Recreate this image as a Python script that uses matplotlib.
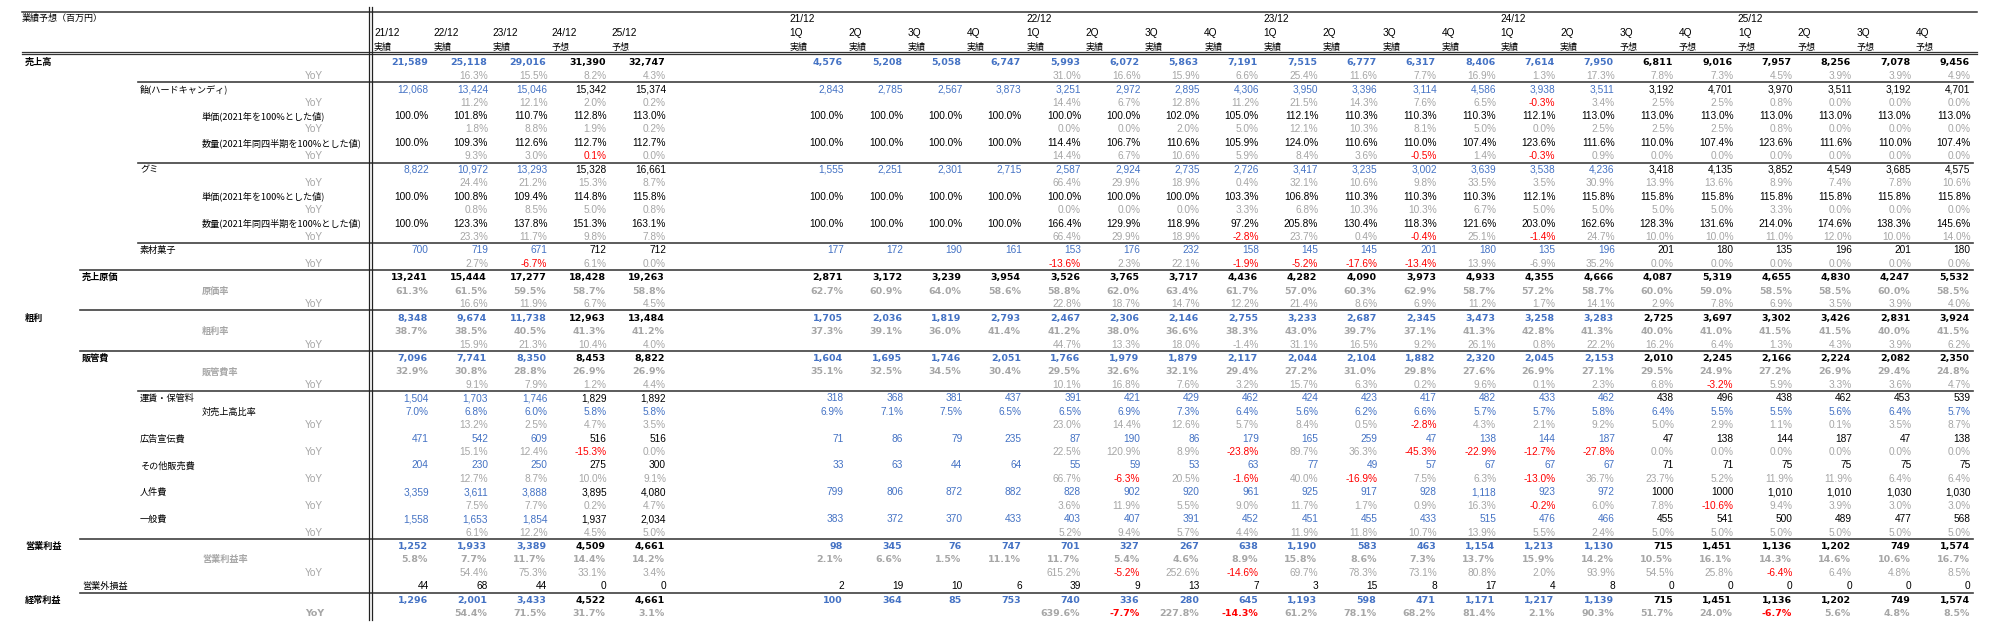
import matplotlib.pyplot as plt

# column headers (5 annual columns, then 20 quarterly columns)
years = ['21/12', '22/12', '23/12', '24/12', '25/12']
annual_status = ['実績', '実績', '実績', '予想', '予想']
quarters = ['1Q', '2Q', '3Q', '4Q']
quarter_status = ['実績'] * 14 + ['予想'] * 6
is_actual = [True, True, True, False, False] + [True] * 14 + [False] * 6

N = None
# each list: 21/12..25/12 annual, then 21/12 1Q .. 25/12 4Q
sales = [21589, 25118, 29016, 31390, 32747,
         4576, 5208, 5058, 6747, 5993, 6072, 5863, 7191, 7515, 6777, 6317, 8406,
         7614, 7950, 6811, 9016, 7957, 8256, 7078, 9456]
sales_yoy = [N, 16.3, 15.5, 8.2, 4.3,
             N, N, N, N, 31.0, 16.6, 15.9, 6.6, 25.4, 11.6, 7.7, 16.9,
             1.3, 17.3, 7.8, 7.3, 4.5, 3.9, 3.9, 4.9]
candy = [12068, 13424, 15046, 15342, 15374,
         2843, 2785, 2567, 3873, 3251, 2972, 2895, 4306, 3950, 3396, 3114, 4586,
         3938, 3511, 3192, 4701, 3970, 3511, 3192, 4701]
candy_yoy = [N, 11.2, 12.1, 2.0, 0.2,
             N, N, N, N, 14.4, 6.7, 12.8, 11.2, 21.5, 14.3, 7.6, 6.5,
             -0.3, 3.4, 2.5, 2.5, 0.8, 0.0, 0.0, 0.0]
candy_price = [100.0, 101.8, 110.7, 112.8, 113.0,
               100.0, 100.0, 100.0, 100.0, 100.0, 100.0, 102.0, 105.0, 112.1, 110.3, 110.3, 110.3,
               112.1, 113.0, 113.0, 113.0, 113.0, 113.0, 113.0, 113.0]
candy_price_yoy = [N, 1.8, 8.8, 1.9, 0.2,
                   N, N, N, N, 0.0, 0.0, 2.0, 5.0, 12.1, 10.3, 8.1, 5.0,
                   0.0, 2.5, 2.5, 2.5, 0.8, 0.0, 0.0, 0.0]
candy_qty = [100.0, 109.3, 112.6, 112.7, 112.7,
             100.0, 100.0, 100.0, 100.0, 114.4, 106.7, 110.6, 105.9, 124.0, 110.6, 110.0, 107.4,
             123.6, 111.6, 110.0, 107.4, 123.6, 111.6, 110.0, 107.4]
candy_qty_yoy = [N, 9.3, 3.0, 0.1, 0.0,
                 N, N, N, N, 14.4, 6.7, 10.6, 5.9, 8.4, 3.6, -0.5, 1.4,
                 -0.3, 0.9, 0.0, 0.0, 0.0, 0.0, 0.0, 0.0]
gummy = [8822, 10972, 13293, 15328, 16661,
         1555, 2251, 2301, 2715, 2587, 2924, 2735, 2726, 3417, 3235, 3002, 3639,
         3538, 4236, 3418, 4135, 3852, 4549, 3685, 4575]
gummy_yoy = [N, 24.4, 21.2, 15.3, 8.7,
             N, N, N, N, 66.4, 29.9, 18.9, 0.4, 32.1, 10.6, 9.8, 33.5,
             3.5, 30.9, 13.9, 13.6, 8.9, 7.4, 7.8, 10.6]
gummy_price = [100.0, 100.8, 109.4, 114.8, 115.8,
               100.0, 100.0, 100.0, 100.0, 100.0, 100.0, 100.0, 103.3, 106.8, 110.3, 110.3, 110.3,
               112.1, 115.8, 115.8, 115.8, 115.8, 115.8, 115.8, 115.8]
gummy_price_yoy = [N, 0.8, 8.5, 5.0, 0.8,
                   N, N, N, N, 0.0, 0.0, 0.0, 3.3, 6.8, 10.3, 10.3, 6.7,
                   5.0, 5.0, 5.0, 5.0, 3.3, 0.0, 0.0, 0.0]
gummy_qty = [100.0, 123.3, 137.8, 151.3, 163.1,
             100.0, 100.0, 100.0, 100.0, 166.4, 129.9, 118.9, 97.2, 205.8, 130.4, 118.3, 121.6,
             203.0, 162.6, 128.3, 131.6, 214.0, 174.6, 138.3, 145.6]
gummy_qty_yoy = [N, 23.3, 11.7, 9.8, 7.8,
                 N, N, N, N, 66.4, 29.9, 18.9, -2.8, 23.7, 0.4, -0.4, 25.1,
                 -1.4, 24.7, 10.0, 10.0, 11.0, 12.0, 10.0, 14.0]
material = [700, 719, 671, 712, 712,
            177, 172, 190, 161, 153, 176, 232, 158, 145, 145, 201, 180,
            135, 196, 201, 180, 135, 196, 201, 180]
material_yoy = [N, 2.7, -6.7, 6.1, 0.0,
                N, N, N, N, -13.6, 2.3, 22.1, -1.9, -5.2, -17.6, -13.4, 13.9,
                -6.9, 35.2, 0.0, 0.0, 0.0, 0.0, 0.0, 0.0]
cogs = [13241, 15444, 17277, 18428, 19263,
        2871, 3172, 3239, 3954, 3526, 3765, 3717, 4436, 4282, 4090, 3973, 4933,
        4355, 4666, 4087, 5319, 4655, 4830, 4247, 5532]
cogs_rate = [61.3, 61.5, 59.5, 58.7, 58.8,
             62.7, 60.9, 64.0, 58.6, 58.8, 62.0, 63.4, 61.7, 57.0, 60.3, 62.9, 58.7,
             57.2, 58.7, 60.0, 59.0, 58.5, 58.5, 60.0, 58.5]
cogs_yoy = [N, 16.6, 11.9, 6.7, 4.5,
            N, N, N, N, 22.8, 18.7, 14.7, 12.2, 21.4, 8.6, 6.9, 11.2,
            1.7, 14.1, 2.9, 7.8, 6.9, 3.5, 3.9, 4.0]
gross = [8348, 9674, 11738, 12963, 13484,
         1705, 2036, 1819, 2793, 2467, 2306, 2146, 2755, 3233, 2687, 2345, 3473,
         3258, 3283, 2725, 3697, 3302, 3426, 2831, 3924]
gross_rate = [38.7, 38.5, 40.5, 41.3, 41.2,
              37.3, 39.1, 36.0, 41.4, 41.2, 38.0, 36.6, 38.3, 43.0, 39.7, 37.1, 41.3,
              42.8, 41.3, 40.0, 41.0, 41.5, 41.5, 40.0, 41.5]
gross_yoy = [N, 15.9, 21.3, 10.4, 4.0,
             N, N, N, N, 44.7, 13.3, 18.0, -1.4, 31.1, 16.5, 9.2, 26.1,
             0.8, 22.2, 16.2, 6.4, 1.3, 4.3, 3.9, 6.2]
sga = [7096, 7741, 8350, 8453, 8822,
       1604, 1695, 1746, 2051, 1766, 1979, 1879, 2117, 2044, 2104, 1882, 2320,
       2045, 2153, 2010, 2245, 2166, 2224, 2082, 2350]
sga_rate = [32.9, 30.8, 28.8, 26.9, 26.9,
            35.1, 32.5, 34.5, 30.4, 29.5, 32.6, 32.1, 29.4, 27.2, 31.0, 29.8, 27.6,
            26.9, 27.1, 29.5, 24.9, 27.2, 26.9, 29.4, 24.8]
sga_yoy = [N, 9.1, 7.9, 1.2, 4.4,
           N, N, N, N, 10.1, 16.8, 7.6, 3.2, 15.7, 6.3, 0.2, 9.6,
           0.1, 2.3, 6.8, -3.2, 5.9, 3.3, 3.6, 4.7]
freight = [1504, 1703, 1746, 1829, 1892,
           318, 368, 381, 437, 391, 421, 429, 462, 424, 423, 417, 482,
           433, 462, 438, 496, 438, 462, 453, 539]
freight_ratio = [7.0, 6.8, 6.0, 5.8, 5.8,
                 6.9, 7.1, 7.5, 6.5, 6.5, 6.9, 7.3, 6.4, 5.6, 6.2, 6.6, 5.7,
                 5.7, 5.8, 6.4, 5.5, 5.5, 5.6, 6.4, 5.7]
freight_yoy = [N, 13.2, 2.5, 4.7, 3.5,
               N, N, N, N, 23.0, 14.4, 12.6, 5.7, 8.4, 0.5, -2.8, 4.3,
               2.1, 9.2, 5.0, 2.9, 1.1, 0.1, 3.5, 8.7]
advert = [471, 542, 609, 516, 516,
          71, 86, 79, 235, 87, 190, 86, 179, 165, 259, 47, 138,
          144, 187, 47, 138, 144, 187, 47, 138]
advert_yoy = [N, 15.1, 12.4, -15.3, 0.0,
              N, N, N, N, 22.5, 120.9, 8.9, -23.8, 89.7, 36.3, -45.3, -22.9,
              -12.7, -27.8, 0.0, 0.0, 0.0, 0.0, 0.0, 0.0]
other_sell = [204, 230, 250, 275, 300,
              33, 63, 44, 64, 55, 59, 53, 63, 77, 49, 57, 67,
              67, 67, 71, 71, 75, 75, 75, 75]
other_sell_yoy = [N, 12.7, 8.7, 10.0, 9.1,
                  N, N, N, N, 66.7, -6.3, 20.5, -1.6, 40.0, -16.9, 7.5, 6.3,
                  -13.0, 36.7, 23.7, 5.2, 11.9, 11.9, 6.4, 6.4]
personnel = [3359, 3611, 3888, 3895, 4080,
             799, 806, 872, 882, 828, 902, 920, 961, 925, 917, 928, 1118,
             923, 972, '1000', '1000', 1010, 1010, 1030, 1030]
personnel_yoy = [N, 7.5, 7.7, 0.2, 4.7,
                 N, N, N, N, 3.6, 11.9, 5.5, 9.0, 11.7, 1.7, 0.9, 16.3,
                 -0.2, 6.0, 7.8, -10.6, 9.4, 3.9, 3.0, 3.0]
general = [1558, 1653, 1854, 1937, 2034,
           383, 372, 370, 433, 403, 407, 391, 452, 451, 455, 433, 515,
           476, 466, 455, 541, 500, 489, 477, 568]
general_yoy = [N, 6.1, 12.2, 4.5, 5.0,
               N, N, N, N, 5.2, 9.4, 5.7, 4.4, 11.9, 11.8, 10.7, 13.9,
               5.5, 2.4, 5.0, 5.0, 5.0, 5.0, 5.0, 5.0]
op_profit = [1252, 1933, 3389, 4509, 4661,
             98, 345, 76, 747, 701, 327, 267, 638, 1190, 583, 463, 1154,
             1213, 1130, 715, 1451, 1136, 1202, 749, 1574]
op_margin = [5.8, 7.7, 11.7, 14.4, 14.2,
             2.1, 6.6, 1.5, 11.1, 11.7, 5.4, 4.6, 8.9, 15.8, 8.6, 7.3, 13.7,
             15.9, 14.2, 10.5, 16.1, 14.3, 14.6, 10.6, 16.7]
op_yoy = [N, 54.4, 75.3, 33.1, 3.4,
          N, N, N, N, 615.2, -5.2, 252.6, -14.6, 69.7, 78.3, 73.1, 80.8,
          2.0, 93.9, 54.5, 25.8, -6.4, 6.4, 4.8, 8.5]
non_op = [44, 68, 44, 0, 0,
          2, 19, 10, 6, 39, 9, 13, 7, 3, 15, 8, 17,
          4, 8, 0, 0, 0, 0, 0, 0]
ordinary = [1296, 2001, 3433, 4522, 4661,
            100, 364, 85, 753, 740, 336, 280, 645, 1193, 598, 471, 1171,
            1217, 1139, 715, 1451, 1136, 1202, 749, 1574]
ordinary_yoy = [N, 54.4, 71.5, 31.7, 3.1,
                N, N, N, N, 639.6, -7.7, 227.8, -14.3, 61.2, 78.1, 68.2, 81.4,
                2.1, 90.3, 51.7, 24.0, -6.7, 5.6, 4.8, 8.5]

# cells where the sheet's red/gray colouring does not follow the sign
red_positive = [('candy_qty_yoy', 3)]
gray_negative = [('material_yoy', 17), ('gross_yoy', 12)]

# (label, indent level, data name, kind, bold)
rows = [
    ('売上高', 0, 'sales', 'amt', True),
    ('YoY', 4, 'sales_yoy', 'yoy', False),
    ('飴(ハードキャンディ)', 2, 'candy', 'amt', False),
    ('YoY', 4, 'candy_yoy', 'yoy', False),
    ('単価(2021年を100%とした値)', 3, 'candy_price', 'pct', False),
    ('YoY', 4, 'candy_price_yoy', 'yoy', False),
    ('数量(2021年同四半期を100%とした値)', 3, 'candy_qty', 'pct', False),
    ('YoY', 4, 'candy_qty_yoy', 'yoy', False),
    ('グミ', 2, 'gummy', 'amt', False),
    ('YoY', 4, 'gummy_yoy', 'yoy', False),
    ('単価(2021年を100%とした値)', 3, 'gummy_price', 'pct', False),
    ('YoY', 4, 'gummy_price_yoy', 'yoy', False),
    ('数量(2021年同四半期を100%とした値)', 3, 'gummy_qty', 'pct', False),
    ('YoY', 4, 'gummy_qty_yoy', 'yoy', False),
    ('素材菓子', 2, 'material', 'amt', False),
    ('YoY', 4, 'material_yoy', 'yoy', False),
    ('売上原価', 1, 'cogs', 'black', True),
    ('原価率', 3, 'cogs_rate', 'rate', True),
    ('YoY', 4, 'cogs_yoy', 'yoy', False),
    ('粗利', 0, 'gross', 'amt', True),
    ('粗利率', 3, 'gross_rate', 'rate', True),
    ('YoY', 4, 'gross_yoy', 'yoy', False),
    ('販管費', 1, 'sga', 'amt', True),
    ('販管費率', 3, 'sga_rate', 'rate', True),
    ('YoY', 4, 'sga_yoy', 'yoy', False),
    ('運賃・保管料', 2, 'freight', 'amt', False),
    ('対売上高比率', 3, 'freight_ratio', 'pct_blue', False),
    ('YoY', 4, 'freight_yoy', 'yoy', False),
    ('広告宣伝費', 2, 'advert', 'amt', False),
    ('YoY', 4, 'advert_yoy', 'yoy', False),
    ('その他販売費', 2, 'other_sell', 'amt', False),
    ('YoY', 4, 'other_sell_yoy', 'yoy', False),
    ('人件費', 2, 'personnel', 'amt', False),
    ('YoY', 4, 'personnel_yoy', 'yoy', False),
    ('一般費', 2, 'general', 'amt', False),
    ('YoY', 4, 'general_yoy', 'yoy', False),
    ('営業利益', 0, 'op_profit', 'amt', True),
    ('営業利益率', 3, 'op_margin', 'rate', True),
    ('YoY', 4, 'op_yoy', 'yoy', False),
    ('営業外損益', 1, 'non_op', 'black', False),
    ('経常利益', 0, 'ordinary', 'amt', True),
    ('YoY', 4, 'ordinary_yoy', 'yoy', True),
]
data = globals()

BLUE = '#4472c4'
GRAY = '#a6a6a6'
RED = '#ff0000'
JP = ['Noto Sans CJK JP', 'DejaVu Sans']

fig = plt.figure(figsize=(20, 6.28), dpi=100)
ax = fig.add_axes([0, 0, 1, 1])
ax.set_xlim(0, 2000)
ax.set_ylim(628, 0)
ax.axis('off')

x0, cw = 370, 59.3
y0, rh = 61.7, 13.44
label_x = [25, 82, 140, 202, 305]


def col_left(c):
    # 5 annual columns, 2 blank columns, 20 quarterly columns
    return x0 + cw * (c if c < 5 else c + 2)


def row_y(r):
    return y0 + rh * r


# header
ax.text(22, 17 + 3.5, '業績予想（百万円）', family=JP, fontsize=6.5, va='baseline')
for i in range(5):
    ax.text(col_left(i) + 4, 32.3 + 3.6, years[i], family='Liberation Sans', fontsize=7.3, va='baseline')
    ax.text(col_left(i) + 4, 46.7 + 3.5, annual_status[i], family=JP, fontsize=6.5, va='baseline')
for k in range(20):
    c = 5 + k
    if k % 4 == 0:
        ax.text(col_left(c) + 4, 18.3 + 3.6, years[k // 4], family='Liberation Sans', fontsize=7.3, va='baseline')
    ax.text(col_left(c) + 4, 32.3 + 3.6, quarters[k % 4], family='Liberation Sans', fontsize=7.3, va='baseline')
    ax.text(col_left(c) + 4, 46.7 + 3.5, quarter_status[k], family=JP, fontsize=6.5, va='baseline')

# rows
for r, (label, level, name, kind, bold) in enumerate(rows):
    y = row_y(r)
    lab_color = GRAY if kind in ('yoy', 'rate') else 'black'
    if label == 'YoY':
        ax.text(label_x[4], y + 3.6, label, color=GRAY,
                family='DejaVu Sans' if bold else 'Liberation Sans',
                fontsize=6.8 if bold else 7.3, weight='bold' if bold else 'normal', va='baseline')
    else:
        ax.text(label_x[level], y + 3.5, label, color=lab_color, family=JP, fontsize=6.6,
                weight='bold' if bold else 'normal', va='baseline')
    vals = data[name]
    for c, v in enumerate(vals):
        if v is None:
            continue
        if isinstance(v, str):
            s = v
        elif kind in ('amt', 'black'):
            s = f'{v:,}'
        else:
            s = f'{v:.1f}%'
        if kind == 'amt':
            color = BLUE if is_actual[c] else 'black'
        elif kind == 'pct_blue':
            color = BLUE
        elif kind == 'rate':
            color = GRAY
        elif kind == 'yoy':
            neg = v < 0
            if (name, c) in red_positive:
                neg = True
            if (name, c) in gray_negative:
                neg = False
            color = RED if neg else GRAY
        else:
            color = 'black'
        if bold:
            ax.text(col_left(c) + cw - 1.5, y + 3.5, s, color=color, family='DejaVu Sans',
                    weight='bold', fontsize=6.8, ha='right', va='baseline')
        else:
            ax.text(col_left(c) + cw - 0.5, y + 3.6, s, color=color, family='Liberation Sans',
                    fontsize=7.3, ha='right', va='baseline')

# rules
ax.plot([22, 1977], [12, 12], color='#333333', lw=1.1)
ax.plot([22, 1977], [51.8, 51.8], color='#333333', lw=0.9)
ax.plot([22, 1977], [54.3, 54.3], color='#333333', lw=0.9)
seps = [(2, 138), (8, 138), (14, 138), (16, 80), (19, 80), (22, 80), (25, 138), (36, 80), (40, 80)]
for r, xs in seps:
    yl = row_y(r) - rh / 2
    ax.plot([xs, 1973], [yl, yl], color='#404040', lw=1.2)
ax.plot([368.8, 368.8], [7, 620], color='#222222', lw=0.9)
ax.plot([371.8, 371.8], [7, 620], color='#222222', lw=0.9)

fig.savefig('out.png', dpi=100)
